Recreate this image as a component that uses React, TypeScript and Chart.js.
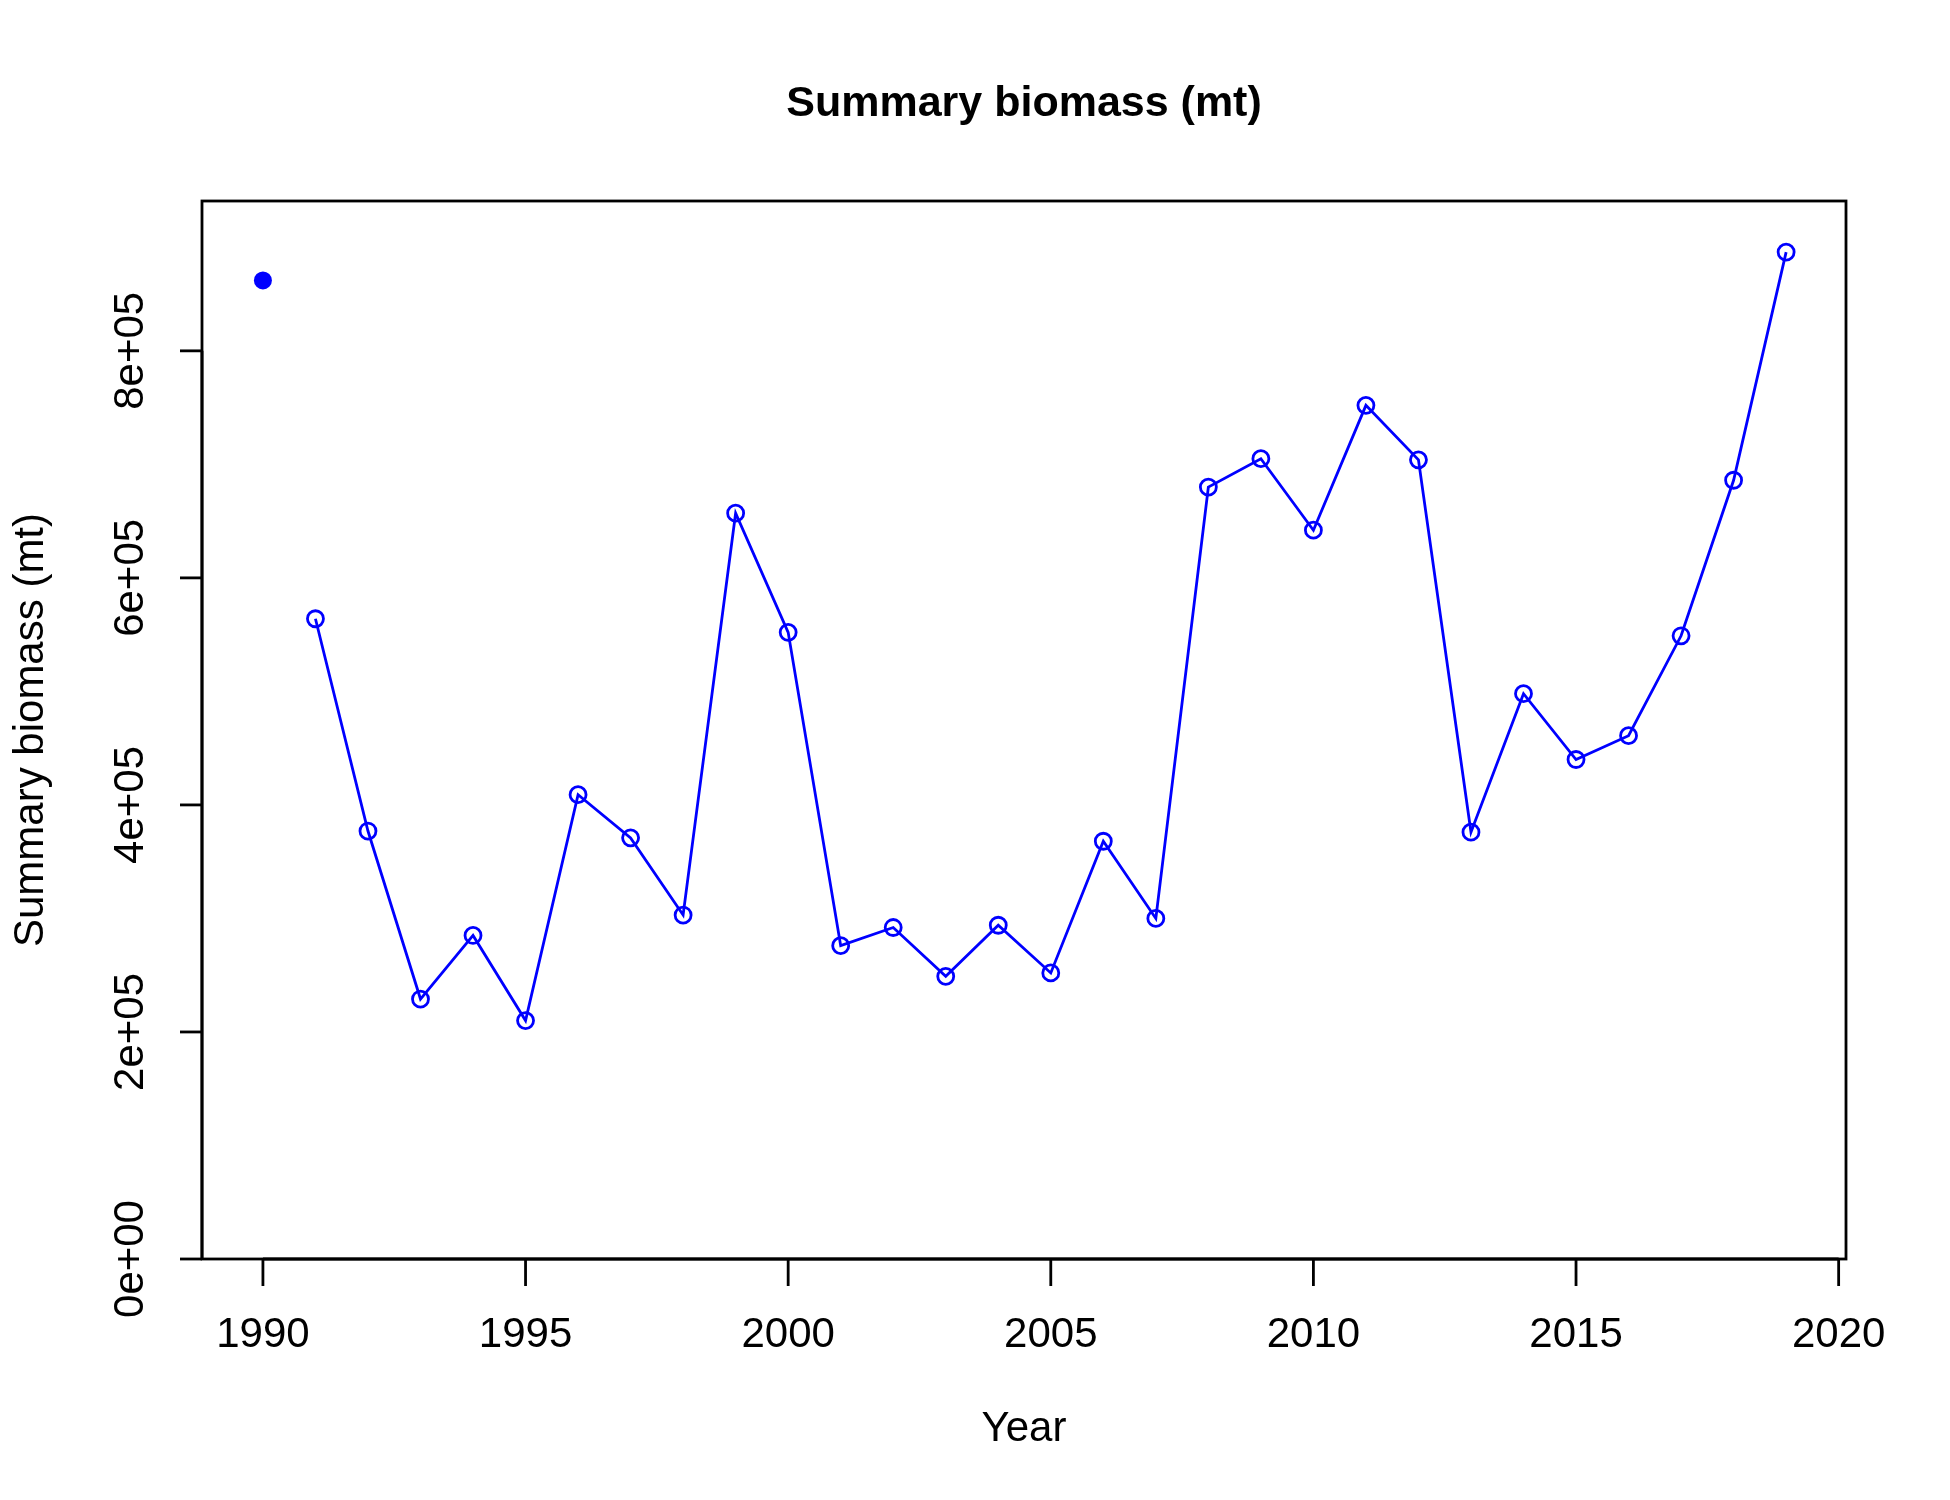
import React, { useEffect, useRef } from "react";
import { Chart, registerables } from "chart.js";

Chart.register(...registerables);

const years = [1991, 1992, 1993, 1994, 1995, 1996, 1997, 1998, 1999, 2000, 2001, 2002, 2003, 2004, 2005, 2006, 2007, 2008, 2009, 2010, 2011, 2012, 2013, 2014, 2015, 2016, 2017, 2018, 2019];
const biomass = [564000, 377000, 229000, 285000, 210000, 409000, 371000, 303000, 657000, 552000, 276000, 292000, 249000, 294000, 252000, 368000, 300000, 680000, 705000, 642000, 752000, 704000, 376000, 498000, 440000, 461000, 549000, 686000, 887000];
const virginYear = 1990;
const virginBiomass = 862000;
const xTicks = [1990, 1995, 2000, 2005, 2010, 2015, 2020];
const yTicks = [0, 200000, 400000, 600000, 800000];
const yTickLabels = ["0e+00", "2e+05", "4e+05", "6e+05", "8e+05"];

const FONT = "Liberation Sans, Arial, sans-serif";

const axesPlugin = {
  id: "rAxes",
  afterDraw(chart: any) {
    const { ctx, chartArea: a, scales } = chart;
    const xs = scales.x, ys = scales.y;
    ctx.save();
    ctx.strokeStyle = "#000";
    ctx.fillStyle = "#000";
    ctx.lineWidth = 2.8;
    ctx.strokeRect(a.left, a.top, a.right - a.left, a.bottom - a.top);
    // x axis
    ctx.font = `42px ${FONT}`;
    ctx.textAlign = "center";
    ctx.textBaseline = "middle";
    const x0 = xs.getPixelForValue(xTicks[0]);
    const x1 = xs.getPixelForValue(xTicks[xTicks.length - 1]);
    ctx.beginPath();
    ctx.moveTo(x0, a.bottom);
    ctx.lineTo(x1, a.bottom);
    ctx.stroke();
    xTicks.forEach((t) => {
      const px = xs.getPixelForValue(t);
      ctx.beginPath();
      ctx.moveTo(px, a.bottom);
      ctx.lineTo(px, a.bottom + 27);
      ctx.stroke();
      ctx.fillText(String(t), px, a.bottom + 76);
    });
    // y axis
    const y0 = ys.getPixelForValue(yTicks[0]);
    const y1 = ys.getPixelForValue(yTicks[yTicks.length - 1]);
    ctx.beginPath();
    ctx.moveTo(a.left, y0);
    ctx.lineTo(a.left, y1);
    ctx.stroke();
    yTicks.forEach((t, i) => {
      const py = ys.getPixelForValue(t);
      ctx.beginPath();
      ctx.moveTo(a.left, py);
      ctx.lineTo(a.left - 22, py);
      ctx.stroke();
      ctx.save();
      ctx.translate(a.left - 71, py);
      ctx.rotate(-Math.PI / 2);
      ctx.fillText(yTickLabels[i], 0, 0);
      ctx.restore();
    });
    // titles
    ctx.fillText("Year", (a.left + a.right) / 2, 1429);
    ctx.save();
    ctx.translate(31, (a.top + a.bottom) / 2);
    ctx.rotate(-Math.PI / 2);
    ctx.fillText("Summary biomass (mt)", 0, 0);
    ctx.restore();
    ctx.font = `bold 43px ${FONT}`;
    ctx.fillText("Summary biomass (mt)", (a.left + a.right) / 2, 104);
    ctx.restore();
  },
};

export default function App() {
  const canvasRef = useRef<HTMLCanvasElement>(null);

  useEffect(() => {
    document.body.style.margin = "0";
    const canvas = canvasRef.current;
    if (!canvas) return;
    const chart = new Chart(canvas, {
      type: "line",
      data: {
        datasets: [
          {
            data: years.map((y, i) => ({ x: y, y: biomass[i] })),
            borderColor: "#0000ff",
            borderWidth: 2.8,
            pointStyle: "circle",
            pointRadius: 8,
            pointBorderWidth: 2.8,
            pointBorderColor: "#0000ff",
            pointBackgroundColor: "rgba(0,0,0,0)",
            tension: 0,
          },
          {
            data: [{ x: virginYear, y: virginBiomass }],
            showLine: false,
            pointRadius: 9,
            pointBorderWidth: 0,
            pointBackgroundColor: "#0000ff",
            borderColor: "#0000ff",
          },
        ],
      },
      options: {
        responsive: false,
        animation: false,
        layout: { padding: { top: 201, right: 104, bottom: 0, left: 0 } },
        plugins: { legend: { display: false }, tooltip: { enabled: false } },
        scales: {
          x: {
            type: "linear",
            min: 1988.84,
            max: 2020.14,
            grid: { display: false },
            border: { display: false },
            ticks: { display: false },
            afterFit: (s: any) => { s.height = 241; },
          },
          y: {
            min: 0,
            max: 932000,
            grid: { display: false },
            border: { display: false },
            ticks: { display: false },
            afterFit: (s: any) => { s.width = 202; },
          },
        },
      },
      plugins: [axesPlugin],
    });
    return () => chart.destroy();
  }, []);

  return <canvas ref={canvasRef} width={1950} height={1500} style={{ display: "block" }} />;
}
